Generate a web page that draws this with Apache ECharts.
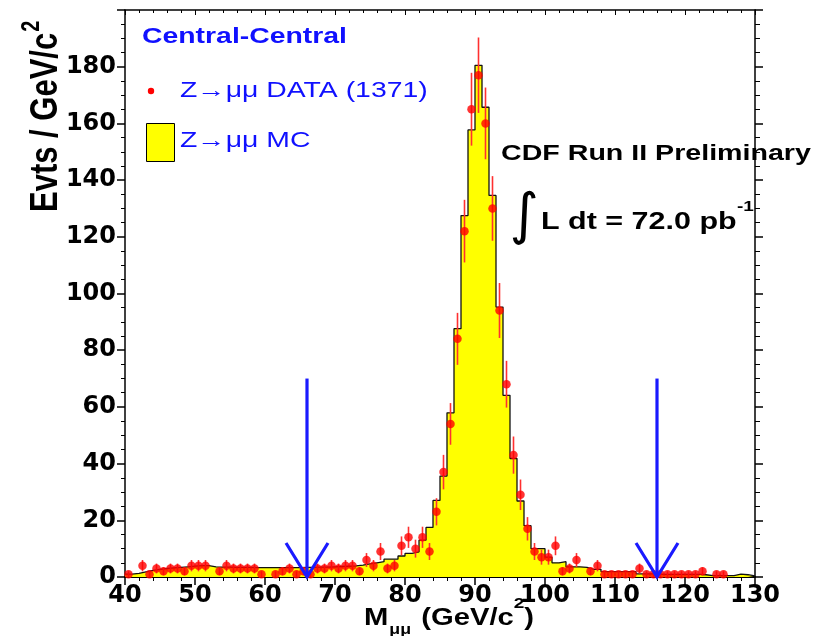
<!DOCTYPE html>
<html>
<head>
<meta charset="utf-8">
<title>Z→μμ Central-Central</title>
<script src="https://cdn.jsdelivr.net/npm/echarts@6.0.0/dist/echarts.min.js"></script>
<style>
html,body{margin:0;padding:0;background:#fff;}
#chart{width:825px;height:636px;}
</style>
</head>
<body>
<div id="chart"></div>
<script>
// ---- data ----
const massRange = [40, 130];          // GeV/c^2
const binWidth = 1;                   // GeV/c^2 per bin
// MC histogram, one value per 1 GeV bin from 40 to 130
const mcCounts = [
  1.0, 1.3, 1.8, 2.3, 2.7, 3.0, 3.2, 3.4, 3.6, 3.8,      // 40-49
  4.0, 4.0, 3.6, 3.5, 3.5, 3.4, 3.4, 3.4, 3.3, 3.3,      // 50-59
  3.3, 3.3, 3.3, 3.3, 3.3, 3.4, 3.4, 3.5, 3.5, 3.6,      // 60-69
  3.7, 3.8, 3.9, 4.2, 4.6, 5.0, 5.4, 6.3, 6.3, 7.4,      // 70-79
  8.3, 8.9, 13.0, 17.5, 27.0, 35.6, 57.9, 87.6, 127.5, 157.7, // 80-89
  180.5, 165.7, 134.6, 95.2, 64.1, 41.8, 26.8, 18.1, 10.0, 10.0, // 90-99
  7.0, 5.0, 5.4, 3.6, 3.6, 3.4, 2.7, 2.7, 1.9, 1.9,      // 100-109
  1.9, 1.9, 1.9, 1.1, 1.1, 1.1, 0.9, 0.9, 0.9, 0.9,      // 110-119
  0.9, 0.9, 0.8, 0.5, 0.5, 0.5, 0.5, 1.0, 0.8, 0.4       // 120-129
];
// Data events per bin (0 = empty bin, not drawn)
const dataCounts = [
  1, 0, 4, 1, 3, 2, 3, 3, 2, 4,          // 40-49
  4, 4, 0, 2, 4, 3, 3, 3, 3, 1,          // 50-59
  0, 1, 2, 3, 1, 2, 1, 3, 3, 4,          // 60-69
  3, 4, 4, 2, 6, 4, 9, 3, 4, 11,         // 70-79
  14, 10, 14, 9, 23, 37, 54, 84, 122, 165, // 80-89
  177, 160, 130, 94, 68, 43, 29, 17, 9, 7, // 90-99
  7, 11, 2, 3, 6, 0, 2, 4, 1, 1,         // 100-109
  1, 1, 1, 3, 1, 1, 1, 1, 1, 1,          // 110-119
  1, 1, 2, 0, 1, 1, 0, 0, 0, 0           // 120-129
];
const xTickLabels = [40, 50, 60, 70, 80, 90, 100, 110, 120, 130];
const yTickLabels = [0, 20, 40, 60, 80, 100, 120, 140, 160, 180];
const cutMasses = [66, 116];   // mass window arrows
const arrowTop = 70;
const arrowHead = [3, 12];     // half width (GeV), height (events)
const dataTotal = 1371;

// ---- build series data ----
const binLow = mcCounts.map((_, i) => massRange[0] + i * binWidth);
const mcLine = mcCounts.map((v, i) => [binLow[i], v]);
mcLine.push([massRange[1], mcCounts[mcCounts.length - 1]]);
const dataPts = [];
dataCounts.forEach((n, i) => { if (n > 0) dataPts.push([binLow[i] + binWidth / 2, n, Math.sqrt(n)]); });

const arrowSeries = [];
cutMasses.forEach(m => {
  arrowSeries.push({
    type: 'line', data: [[m, arrowTop], [m, 0]], symbol: 'none', silent: true,
    lineStyle: { color: '#1a1aff', width: 3.2 }, z: 10, clip: false
  });
  arrowSeries.push({
    type: 'line', data: [[m - arrowHead[0], arrowHead[1]], [m, 0], [m + arrowHead[0], arrowHead[1]]],
    symbol: 'none', silent: true, lineStyle: { color: '#1a1aff', width: 3.2, join: 'miter' }, z: 10, clip: false
  });
});

// ---- text helpers ----
const SANS = "'Liberation Sans', Arial, Helvetica, sans-serif";
const SX = 1.27; // horizontal stretch of the original figure
const mctx = document.createElement('canvas').getContext('2d');
function tw(text, font) { mctx.font = font; return mctx.measureText(text).width; }
function txt(text, x, y, size, bold, color, opts) {
  opts = opts || {};
  return {
    type: 'text', x: x, y: y, scaleX: opts.scaleX || SX, scaleY: opts.scaleY || 1,
    rotation: opts.rotation || 0, z: 100,
    style: {
      text: text, fill: color,
      font: (bold ? 'bold ' : '') + size + 'px ' + (opts.family || SANS),
      textAlign: opts.align || 'left', textVerticalAlign: opts.valign || 'middle'
    }
  };
}

const graphics = [];
const BLUE = '#1010ff';
graphics.push(txt('Central-Central', 142, 37, 22, true, BLUE, { scaleX: 1.29 }));
graphics.push({ type: 'circle', shape: { cx: 151, cy: 91, r: 3.2 }, style: { fill: '#ff0000' }, z: 100 });
graphics.push(txt('Z\u2192\u03bc\u03bc DATA (' + dataTotal + ')', 180, 91, 22, false, BLUE, { scaleX: 1.29 }));
graphics.push({ type: 'rect', shape: { x: 146.5, y: 123.5, width: 28, height: 38 }, style: { fill: '#ffff00', stroke: '#000', lineWidth: 1 }, z: 100 });
graphics.push(txt('Z\u2192\u03bc\u03bc MC', 180, 141, 22, false, BLUE, { scaleX: 1.29 }));
graphics.push(txt('CDF Run II Preliminary', 501, 154, 22, true, '#000', { scaleX: 1.3 }));
graphics.push(txt('\u222b', 524, 218, 56, false, '#000', { scaleX: 1, align: 'center', family: "'DejaVu Sans', sans-serif" }));
graphics.push(txt('L dt = 72.0 pb', 541, 222, 24, true, '#000'));
graphics.push(txt('-1', 737, 207, 15, true, '#000'));

// x-axis title: M_{μμ} (GeV/c^2)
(function () {
  let x = 364; const y = 619;
  const fMain = 'bold 23px ' + SANS, fSub = 'bold 14px ' + SANS, fSup = 'bold 15px ' + SANS;
  graphics.push(txt('M', x, y, 23, true, '#000')); x += tw('M', fMain) * SX + 1;
  graphics.push(txt('\u03bc\u03bc', x, y + 11, 14, true, '#000')); x += tw('\u03bc\u03bc', fSub) * SX + 2;
  graphics.push(txt(' (GeV/c', x, y, 23, true, '#000')); x += tw(' (GeV/c', fMain) * SX;
  graphics.push(txt('2', x, y - 15, 15, true, '#000')); x += tw('2', fSup) * SX;
  graphics.push(txt(')', x, y, 23, true, '#000'));
})();
// y-axis title: Evts / GeV/c^2 (rotated)
(function () {
  const f = 'bold 31px ' + SANS;
  const w = tw('Evts / GeV/c', f);
  graphics.push(txt('Evts / GeV/c', 46, 212, 31, true, '#000', { rotation: Math.PI / 2, scaleX: 1, scaleY: SX }));
  graphics.push(txt('2', 32, 212 - w - 1, 20, true, '#000', { rotation: Math.PI / 2, scaleX: 1, scaleY: SX }));
})();

// ---- chart ----
const chart = echarts.init(document.getElementById('chart'), null, { renderer: 'canvas' });
const axisLabelFont = "'DejaVu Sans', sans-serif";
const lineBlack = { color: '#000', width: 1.5 };
chart.setOption({
  animation: false,
  backgroundColor: '#fff',
  grid: { left: 125, right: 70, top: 10, bottom: 59, containLabel: false },
  xAxis: [
    {
      type: 'value', min: massRange[0], max: massRange[1], interval: 10, position: 'bottom',
      axisLine: { show: true, onZero: false, lineStyle: { color: '#000', width: 2 } },
      axisTick: { show: true, length: 8, lineStyle: lineBlack },
      minorTick: { show: true, splitNumber: 5, length: 4, lineStyle: { color: '#000', width: 1 } },
      splitLine: { show: false }, minorSplitLine: { show: false },
      axisLabel: {
        show: true, margin: 7, color: '#000', fontSize: 24, fontWeight: 'bold', fontFamily: axisLabelFont,
        formatter: v => (xTickLabels.indexOf(v) >= 0 ? String(v) : '')
      }
    },
    {
      type: 'value', min: massRange[0], max: massRange[1], interval: 10, position: 'top',
      axisLine: { show: true, onZero: false, lineStyle: lineBlack },
      axisTick: { show: true, inside: true, length: 5, lineStyle: { color: '#000', width: 1 } },
      minorTick: { show: true, splitNumber: 5, length: 3, lineStyle: { color: '#000', width: 1 } },
      splitLine: { show: false }, axisLabel: { show: false }
    }
  ],
  yAxis: [
    {
      type: 'value', min: 0, max: 200, interval: 20, position: 'left',
      axisLine: { show: true, onZero: false, lineStyle: lineBlack },
      axisTick: { show: true, length: 8, lineStyle: lineBlack },
      minorTick: { show: true, splitNumber: 4, length: 4, lineStyle: { color: '#000', width: 1 } },
      splitLine: { show: false }, minorSplitLine: { show: false },
      axisLabel: {
        show: true, margin: 9, color: '#000', fontSize: 24, fontWeight: 'bold', fontFamily: axisLabelFont,
        formatter: v => (yTickLabels.indexOf(v) >= 0 ? String(v) : '')
      }
    },
    {
      type: 'value', min: 0, max: 200, interval: 20, position: 'right',
      axisLine: { show: true, onZero: false, lineStyle: lineBlack },
      axisTick: { show: true, length: 8, lineStyle: lineBlack },
      minorTick: { show: true, splitNumber: 4, length: 5, lineStyle: { color: '#000', width: 1 } },
      splitLine: { show: false }, axisLabel: { show: false }
    }
  ],
  series: [
    {
      name: 'Z→μμ MC', type: 'line', step: 'end', data: mcLine, symbol: 'none', silent: true,
      lineStyle: { color: '#111', width: 1.3 },
      areaStyle: { color: '#ffff00', opacity: 1 }, z: 2
    },
    {
      name: 'errors', type: 'custom', data: dataPts, encode: { x: 0, y: 1 }, z: 3, silent: true,
      renderItem: function (params, api) {
        const x = api.value(0), y = api.value(1), e = api.value(2);
        const p1 = api.coord([x, y - e]), p2 = api.coord([x, y + e]);
        return { type: 'line', shape: { x1: p1[0], y1: p1[1], x2: p2[0], y2: p2[1] },
                 style: { stroke: '#ff3030', lineWidth: 1.6 } };
      }
    },
    {
      name: 'Z→μμ DATA', type: 'scatter', data: dataPts.map(p => [p[0], p[1]]), symbol: 'circle', symbolSize: 8.5,
      itemStyle: { color: '#ff0000' }, z: 4, silent: true
    }
  ].concat(arrowSeries),
  graphic: graphics
});
</script>
</body>
</html>
